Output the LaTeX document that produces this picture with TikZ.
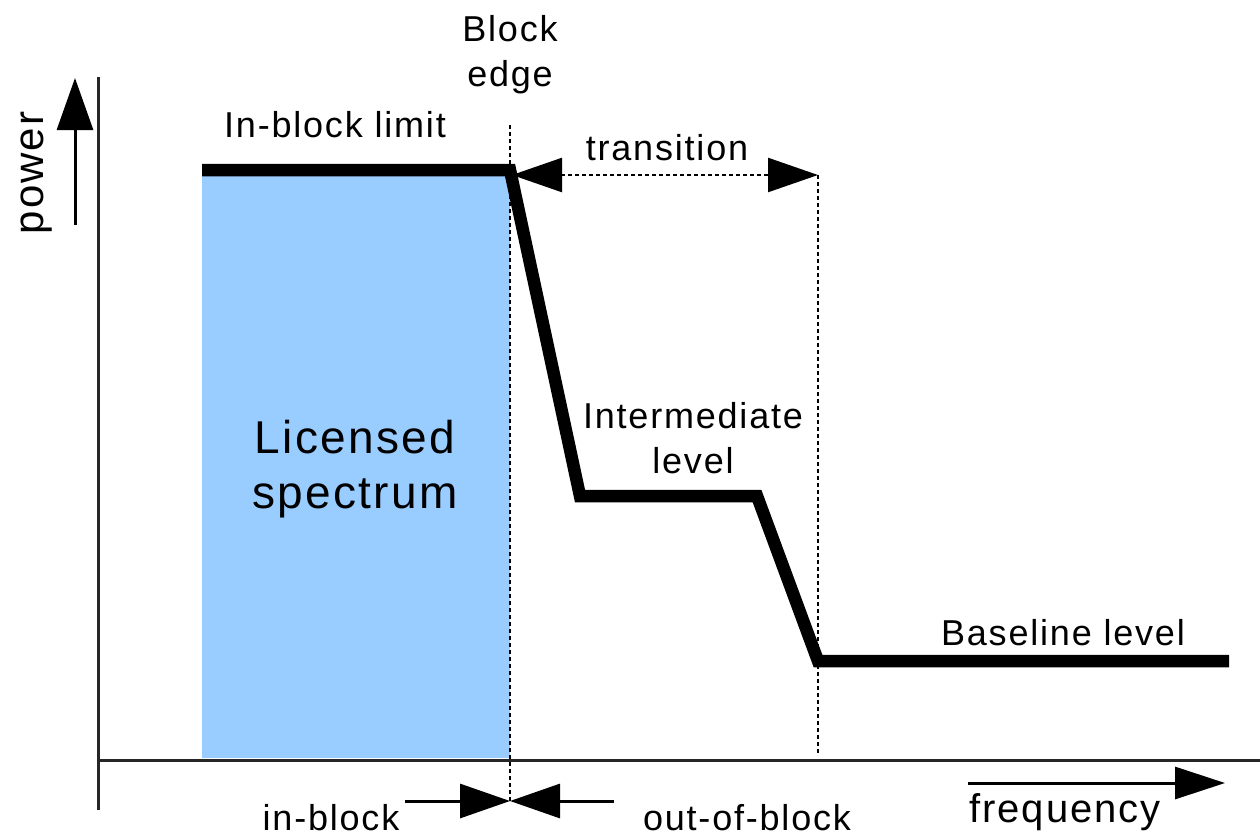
\documentclass[tikz,border=0pt]{standalone}
\usepackage{fontspec}
\setmainfont[LetterSpace=5]{Liberation Sans}
\usetikzlibrary{arrows.meta}
\definecolor{specblue}{RGB}{153,204,255}
\begin{document}
\begin{tikzpicture}[x=1pt,y=-1pt,
  lab/.style={inner sep=0pt,font=\fontsize{36}{45}\selectfont},
  biglab/.style={inner sep=0pt,font=\fontsize{46}{55}\selectfont,align=center},
  axisline/.style={line width=3pt,draw=black!85},
  guide/.style={line width=2.4pt,dash pattern=on 4pt off 3pt},
  curve/.style={line width=12.5pt},
  bigtip/.style={-{Triangle[length=50pt,width=34pt]}},
  thinarrow/.style={line width=3pt}]
\useasboundingbox (0,0) rectangle (1260,839);
% coordinates
\coordinate (p0) at (202,170);
\coordinate (p1) at (510,170);
\coordinate (p2) at (580,496);
\coordinate (p3) at (757,496);
\coordinate (p4) at (818,661);
\coordinate (p5) at (1229,661);
\coordinate (yb) at (98,810);
\coordinate (yt) at (98,77);
\coordinate (xl) at (98,760);
\coordinate (xr) at (1260,760);
% licensed area
\fill[specblue] (202,170) rectangle (510,758);
% axes
\draw[axisline] (yb) -- (yt);
\draw[axisline] (xl) -- (xr);
% guides
\coordinate (g1t) at (510,125);
\coordinate (g1b) at (510,802);
\coordinate (g2t) at (818,175);
\coordinate (g2b) at (818,755);
\draw[guide] (g1t) -- (g1b);
\draw[guide] (g2t) -- (g2b);
% power curve
\draw[curve] (p0) -- (p1) -- (p2) -- (p3) -- (p4) -- (p5);
% transition arrow
\coordinate (ta) at (512,175);
\coordinate (tb) at (818,175);
\draw[guide,{Triangle[length=50pt,width=34pt]}-{Triangle[length=50pt,width=34pt]}] (ta) -- (tb);
% power arrow
\coordinate (pa) at (75,225);
\coordinate (pb) at (75,78);
\draw[thinarrow,-{Triangle[length=52pt,width=36pt]}] (pa) -- (pb);
% frequency arrow
\coordinate (fa) at (968,783);
\coordinate (fb) at (1225,783);
\draw[thinarrow,-{Triangle[length=50pt,width=32pt]}] (fa) -- (fb);
% in/out of block arrows
\coordinate (ia) at (405,801);
\coordinate (ib) at (510,801);
\coordinate (oa) at (614,801);
\draw[thinarrow,bigtip] (ia) -- (ib);
\draw[thinarrow,bigtip] (oa) -- (ib);
% labels
\node[inner sep=0pt,font=\fontsize{42}{45}\selectfont,rotate=90] (power) at (37,173) {power};
\node[lab,align=center] (edge) at (510,55) {Block\\edge};
\node[lab] (inlimit) at (335,125) {In-block limit};
\node[lab] (trans) at (667,148) {transition};
\node[biglab] (lic) at (355,469) {Licensed\\spectrum};
\node[lab,align=center] (inter) at (693,438) {Intermediate\\level};
\node[lab] (base) at (1063,633) {Baseline level};
\node[lab] (inb) at (331,818) {in-block};
\node[lab] (outb) at (747,818) {out-of-block};
\node[inner sep=0pt,font=\fontsize{40}{45}\selectfont] (freq) at (1065,812) {frequency};
\end{tikzpicture}
\end{document}
